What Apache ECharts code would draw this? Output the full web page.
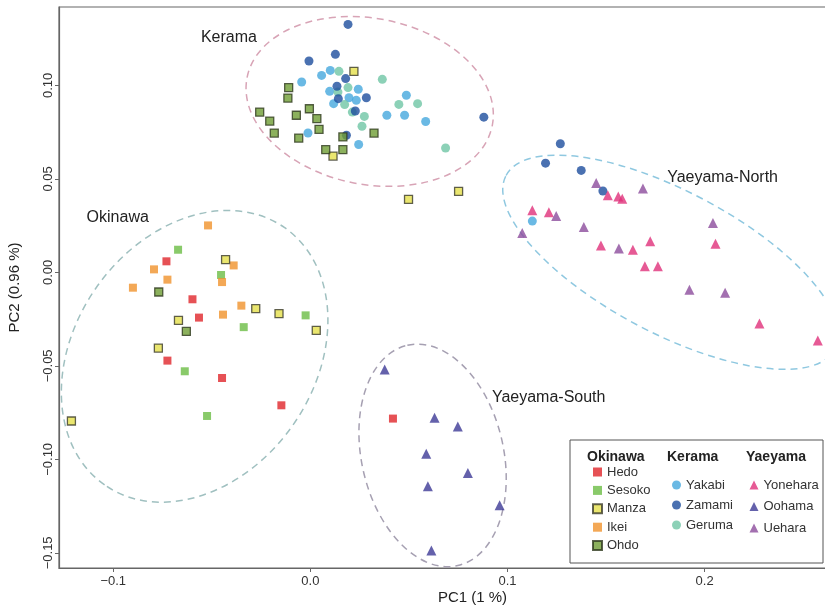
<!DOCTYPE html>
<html>
<head>
<meta charset="utf-8">
<script src="https://cdn.jsdelivr.net/npm/echarts@6/dist/echarts.min.js"></script>
<style>
html,body{margin:0;padding:0;background:#fff;}
#c{width:825px;height:606px;}
</style>
</head>
<body>
<div id="c"></div>
<script>
// ---- Tick labels ----
const xTicks = [-0.1, 0.0, 0.1, 0.2];
const yTicks = [-0.15, -0.10, -0.05, 0.00, 0.05, 0.10];

// ---- Population samples [PC1, PC2] ----
const hedo = [[-0.0730,0.0059],[-0.0598,-0.0144],[-0.0565,-0.0242],[-0.0725,-0.0472],[-0.0448,-0.0565],[-0.0147,-0.0711],[0.0419,-0.0782]];
const sesoko = [[-0.0671,0.0121],[-0.0453,-0.0014],[-0.0024,-0.0230],[-0.0338,-0.0293],[-0.0637,-0.0529],[-0.0524,-0.0768]];
const manza = [[-0.0430,0.0068],[-0.0277,-0.0194],[-0.0159,-0.0221],[-0.0669,-0.0257],[0.0030,-0.0310],[-0.0771,-0.0405],[-0.1212,-0.0795],[0.0221,0.1075],[0.0115,0.0622],[0.0498,0.0390],[0.0752,0.0433]];
const ikei = [[-0.0519,0.0251],[-0.0389,0.0037],[-0.0793,0.0016],[-0.0725,-0.0039],[-0.0448,-0.0052],[-0.0900,-0.0082],[-0.0350,-0.0178],[-0.0443,-0.0226]];
const ohdo = [[-0.0769,-0.0105],[-0.0629,-0.0316],[-0.0110,0.0988],[-0.0114,0.0932],[-0.0257,0.0857],[-0.0206,0.0809],[-0.0183,0.0745],[-0.0071,0.0840],[-0.0005,0.0875],[0.0033,0.0822],[0.0044,0.0765],[-0.0059,0.0718],[0.0078,0.0656],[0.0165,0.0656],[0.0165,0.0724],[0.0323,0.0745]];
const yakabi = [[0.0057,0.1053],[0.0101,0.1080],[-0.0044,0.1018],[0.0098,0.0968],[0.0118,0.0902],[0.0196,0.0934],[0.0243,0.0979],[0.0233,0.0920],[0.0388,0.0840],[0.0487,0.0947],[0.0478,0.0840],[0.0585,0.0807],[-0.0012,0.0745],[0.0245,0.0684],[0.1126,0.0274]];
const zamami = [[0.0191,0.1326],[-0.0007,0.1130],[0.0127,0.1166],[0.0179,0.1036],[0.0135,0.0995],[0.0142,0.0929],[0.0284,0.0934],[0.0228,0.0863],[0.0183,0.0733],[0.0880,0.0830],[0.1268,0.0688],[0.1193,0.0584],[0.1374,0.0545],[0.1484,0.0435]];
const geruma = [[0.0145,0.1075],[0.0365,0.1032],[0.0191,0.0988],[0.0140,0.0964],[0.0174,0.0897],[0.0449,0.0898],[0.0544,0.0902],[0.0274,0.0834],[0.0262,0.0781],[0.0213,0.0857],[0.0686,0.0665]];
const yonehara = [[0.1509,0.0412],[0.1562,0.0406],[0.1582,0.0394],[0.1126,0.0332],[0.1210,0.0322],[0.1474,0.0144],[0.1636,0.0121],[0.1724,0.0166],[0.2055,0.0153],[0.1697,0.0032],[0.1763,0.0032],[0.2278,-0.0274],[0.2574,-0.0364]];
const oohama = [[0.0377,-0.0520],[0.0630,-0.0777],[0.0748,-0.0824],[0.0588,-0.0970],[0.0799,-0.1073],[0.0596,-0.1144],[0.0960,-0.1246],[0.0614,-0.1487]];
const uehara = [[0.1450,0.0478],[0.1687,0.0448],[0.1247,0.0301],[0.1075,0.0210],[0.1387,0.0242],[0.1565,0.0127],[0.2042,0.0264],[0.1923,-0.0093],[0.2104,-0.0109]];

// ---- Group ellipses: centre, and two conjugate semi-axis vectors (data units) ----
const ellipseNames = ['Kerama','Okinawa','Yaeyama-North','Yaeyama-South'];
const ellipseCenters = [[0.0301,0.0914],[-0.0587,-0.0449],[0.1827,0.0054],[0.0620,-0.0979]];
const ellipseAxisU = [[0.0622,-0.01275],[0.04567,0.06877],[0.08342,-0.04639],[0.01279,-0.05890]];
const ellipseAxisV = [[-0.00803,-0.04357],[0.04985,-0.03680],[-0.01679,-0.03359],[-0.03509,-0.00848]];
const ellipseColors = ['#d8a4b6','#a0c0c0','#8fc8e0','#a6a0b2'];

// ---- Group labels ----
const groupLabels = ['Kerama','Okinawa','Yaeyama-North','Yaeyama-South'];
const groupLabelPos = [[-0.0413,0.1257],[-0.0977,0.0294],[0.2091,0.0508],[0.1209,-0.0668]];

const FONT = 'Liberation Sans, Arial, Helvetica, sans-serif';
const fmtNum = (v, d) => { const s = Math.abs(v).toFixed(d); return v < -1e-9 ? '\u2212' + s : s; };

function pointSeries(name, data, symbol, size, color, border) {
  return {
    type: 'scatter', name, data, symbol, symbolSize: size,
    itemStyle: border ? {color, borderColor: border, borderWidth: 1.3} : {color, borderWidth: 0},
    emphasis: {disabled: true}
  };
}

const series = [
  {
    type: 'custom', name: 'ellipses', silent: true, z: 1,
    data: ellipseCenters.map((c, i) => [c[0], c[1], i]),
    renderItem: function (params, api) {
      const i = api.value(2);
      const c = ellipseCenters[i], u = ellipseAxisU[i], v = ellipseAxisV[i];
      const pc = api.coord(c);
      const pu = api.coord([c[0] + u[0], c[1] + u[1]]);
      const pv = api.coord([c[0] + v[0], c[1] + v[1]]);
      const dx = pu[0] - pc[0], dy = pu[1] - pc[1];
      const a = Math.hypot(dx, dy), b = Math.hypot(pv[0] - pc[0], pv[1] - pc[1]);
      return {
        type: 'ellipse', x: pc[0], y: pc[1], rotation: -Math.atan2(dy, dx),
        shape: {cx: 0, cy: 0, rx: a, ry: b},
        style: {fill: 'none', stroke: ellipseColors[i], lineWidth: 1.5, lineDash: [7, 5]}
      };
    }
  },
  {
    type: 'custom', name: 'groupLabels', silent: true, z: 2,
    data: groupLabelPos.map((p, i) => [p[0], p[1], i]),
    renderItem: function (params, api) {
      const i = api.value(2);
      const p = api.coord([api.value(0), api.value(1)]);
      return {type: 'text', x: p[0], y: p[1],
        style: {text: groupLabels[i], fontSize: 16, fontFamily: FONT, fill: '#222', align: 'center', verticalAlign: 'middle'}};
    }
  },
  pointSeries('Yakabi', yakabi, 'circle', 9, '#45a7dd'),
  pointSeries('Geruma', geruma, 'circle', 9, '#6fc5a5'),
  pointSeries('Zamami', zamami, 'circle', 9, '#1d4e9e'),
  pointSeries('Yonehara', yonehara, 'triangle', 10, '#e0317a'),
  pointSeries('Oohama', oohama, 'triangle', 10, '#3d3996'),
  pointSeries('Uehara', uehara, 'triangle', 10, '#8c4c9c'),
  pointSeries('Hedo', hedo, 'rect', 8, '#e0262b'),
  pointSeries('Sesoko', sesoko, 'rect', 8, '#6bbd45'),
  pointSeries('Ikei', ikei, 'rect', 8, '#f0922c'),
  pointSeries('Manza', manza, 'rect', 8, '#e5e04b', '#3a3a2a'),
  pointSeries('Ohdo', ohdo, 'rect', 8, '#6f9e35', '#2f3a1f')
];

const legendCommon = {
  orient: 'vertical', selectedMode: false, itemWidth: 9, itemHeight: 9,
  textStyle: {fontSize: 13, fontFamily: FONT, color: '#333', lineHeight: 14}
};

const axisColor = '#666';
const option = {
  animation: false,
  textStyle: {fontFamily: FONT},
  grid: {left: 59, top: 7, width: 827, height: 561, show: true, borderColor: axisColor, borderWidth: 1.2,
         containLabel: false, outerBoundsMode: 'none'},
  xAxis: {
    type: 'value', min: -0.1275, max: 0.292, position: 'bottom',
    axisLine: {show: true, onZero: false, lineStyle: {color: axisColor, width: 1.2}},
    axisTick: {show: true, length: 4, customValues: xTicks, lineStyle: {color: axisColor}},
    axisLabel: {customValues: xTicks, formatter: v => fmtNum(v, 1), margin: 7, fontSize: 13, color: '#333'},
    splitLine: {show: false},
    name: 'PC1 (1 %)', nameLocation: 'middle', nameGap: 22, nameMoveOverlap: false,
    nameTextStyle: {fontSize: 15, color: '#222'}
  },
  yAxis: {
    type: 'value', min: -0.1581, max: 0.1419, position: 'left',
    axisLine: {show: true, onZero: false, lineStyle: {color: axisColor, width: 1.2}},
    axisTick: {show: true, length: 4, customValues: yTicks, lineStyle: {color: axisColor}},
    axisLabel: {customValues: yTicks, formatter: v => fmtNum(v, 2), rotate: 90, margin: 4, fontSize: 13, color: '#333'},
    splitLine: {show: false},
    name: 'PC2 (0.96 %)', nameLocation: 'middle', nameGap: 37, nameMoveOverlap: false,
    nameTextStyle: {fontSize: 15, color: '#222'}
  },
  legend: [
    Object.assign({}, legendCommon, {left: 587, top: 460, itemGap: 4.4, data: ['Hedo','Sesoko','Manza','Ikei','Ohdo']}),
    Object.assign({}, legendCommon, {left: 667, top: 473, itemGap: 6, data: ['Yakabi','Zamami','Geruma']}),
    Object.assign({}, legendCommon, {left: 744.5, top: 473, itemGap: 7.5, data: ['Yonehara','Oohama','Uehara']})
  ],
  graphic: [
    {type: 'rect', z: -1, shape: {x: 570, y: 440, width: 253, height: 123}, style: {fill: '#fff', stroke: '#555', lineWidth: 1}},
    {type: 'text', x: 587, y: 457, style: {text: 'Okinawa', fontSize: 14, fontWeight: 'bold', fontFamily: FONT, fill: '#222', verticalAlign: 'middle'}},
    {type: 'text', x: 667, y: 457, style: {text: 'Kerama', fontSize: 14, fontWeight: 'bold', fontFamily: FONT, fill: '#222', verticalAlign: 'middle'}},
    {type: 'text', x: 746, y: 457, style: {text: 'Yaeyama', fontSize: 14, fontWeight: 'bold', fontFamily: FONT, fill: '#222', verticalAlign: 'middle'}}
  ],
  series: series
};

const chart = echarts.init(document.getElementById('c'), null, {renderer: 'canvas'});
chart.setOption(option);
</script>
</body>
</html>
